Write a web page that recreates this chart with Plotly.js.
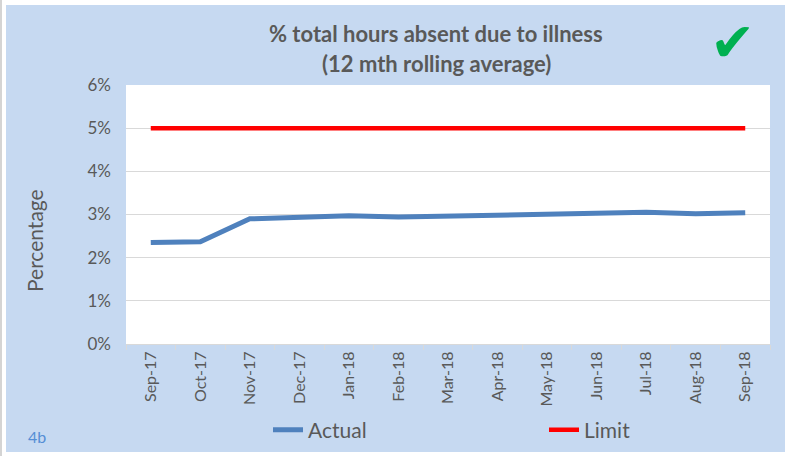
<!DOCTYPE html>
<html>
<head>
<meta charset="utf-8">
<script src="https://cdn.plot.ly/plotly-3.0.1.min.js"></script>
<style>
html,body{margin:0;padding:0;background:#ffffff;width:785px;height:456px;overflow:hidden;}
#edge{position:absolute;left:0;top:0;width:2px;height:456px;background:#d4d4d4;}
#chart{position:absolute;left:6px;top:5px;width:779px;height:447px;}
</style>
</head>
<body>
<div id="edge"></div>
<div id="chart"></div>
<script>
var months = ["Sep-17","Oct-17","Nov-17","Dec-17","Jan-18","Feb-18","Mar-18","Apr-18","May-18","Jun-18","Jul-18","Aug-18","Sep-18"];
var actual = [2.35, 2.37, 2.90, 2.93, 2.97, 2.94, 2.96, 2.98, 3.00, 3.04, 3.05, 3.02, 3.04];
var limit = [5, 5, 5, 5, 5, 5, 5, 5, 5, 5, 5, 5, 5];
var yTicks = [0, 1, 2, 3, 4, 5, 6];
var yTickLabels = ["0%", "1%", "2%", "3%", "4%", "5%", "6%"];

var W = 779, H = 447;
var M = {l: 120, r: 15, t: 80, b: 108};
var PW = W - M.l - M.r, PH = H - M.t - M.b;
function px(x){ return (x - M.l) / PW; }
function py(y){ return 1 - (y - M.t) / PH; }

var FONT = "Lato, 'Open Sans', sans-serif";
var GREY = "#595959";

var traces = [
  {x: months, y: actual, type: "scatter", mode: "lines", name: "Actual",
   line: {color: "#4F81BD", width: 5}, legend: "legend"},
  {x: months, y: limit, type: "scatter", mode: "lines", name: "Limit",
   line: {color: "#FF0000", width: 4.5}, legend: "legend2"}
];

var legStyle = function(xpx){
  return {orientation: "h", xref: "container", yref: "container",
          x: xpx / W, xanchor: "left", y: 1 - 425 / H, yanchor: "middle",
          font: {family: FONT, size: 21, color: GREY}, bgcolor: "rgba(0,0,0,0)",
          itemwidth: 30};
};

var layout = {
  width: W, height: H,
  margin: M,
  paper_bgcolor: "#C6D9F1",
  plot_bgcolor: "#FFFFFF",
  font: {family: FONT, color: GREY},
  showlegend: true,
  legend: legStyle(262),
  legend2: legStyle(538),
  xaxis: {type: "category", range: [-0.5, 12.5], tickangle: -90, automargin: false,
          tickfont: {family: FONT, size: 16, color: GREY},
          showgrid: false, showline: true, linecolor: "#D9D9D9", linewidth: 1,
          ticks: "outside", ticklen: 5, tickcolor: "#D9D9D9", tickson: "boundaries",
          fixedrange: true},
  yaxis: {range: [0, 6], tickvals: yTicks, ticktext: yTickLabels, automargin: false,
          tickfont: {family: FONT, size: 17, color: GREY},
          showgrid: true, gridcolor: "#D9D9D9", gridwidth: 1,
          zeroline: false, showline: false, ticks: "", ticklabelstandoff: 14,
          fixedrange: true},
  annotations: [
    {text: "<b>% total hours absent due to illness</b>", xref: "paper", yref: "paper",
     x: px(430), y: py(29), xanchor: "center", yanchor: "middle", showarrow: false,
     font: {family: FONT, size: 22, color: GREY}},
    {text: "<b>(12 mth rolling average)</b>", xref: "paper", yref: "paper",
     x: px(430), y: py(59), xanchor: "center", yanchor: "middle", showarrow: false,
     font: {family: FONT, size: 22, color: GREY}},
    {text: "Percentage", xref: "paper", yref: "paper", textangle: -90,
     x: px(28), y: py(236), xanchor: "center", yanchor: "middle", showarrow: false,
     font: {family: FONT, size: 21, color: GREY}},
    {text: "4b", xref: "paper", yref: "paper",
     x: px(31), y: py(431), xanchor: "center", yanchor: "middle", showarrow: false,
     font: {family: FONT, size: 16, color: "#558ED5"}},
    {text: "\u2714", xref: "paper", yref: "paper",
     x: px(726), y: py(38), xanchor: "center", yanchor: "middle", showarrow: false,
     font: {family: "DejaVu Sans", size: 54, color: "#00B050"}}
  ]
};

Plotly.newPlot("chart", traces, layout, {displayModeBar: false, staticPlot: true});
</script>
</body>
</html>
